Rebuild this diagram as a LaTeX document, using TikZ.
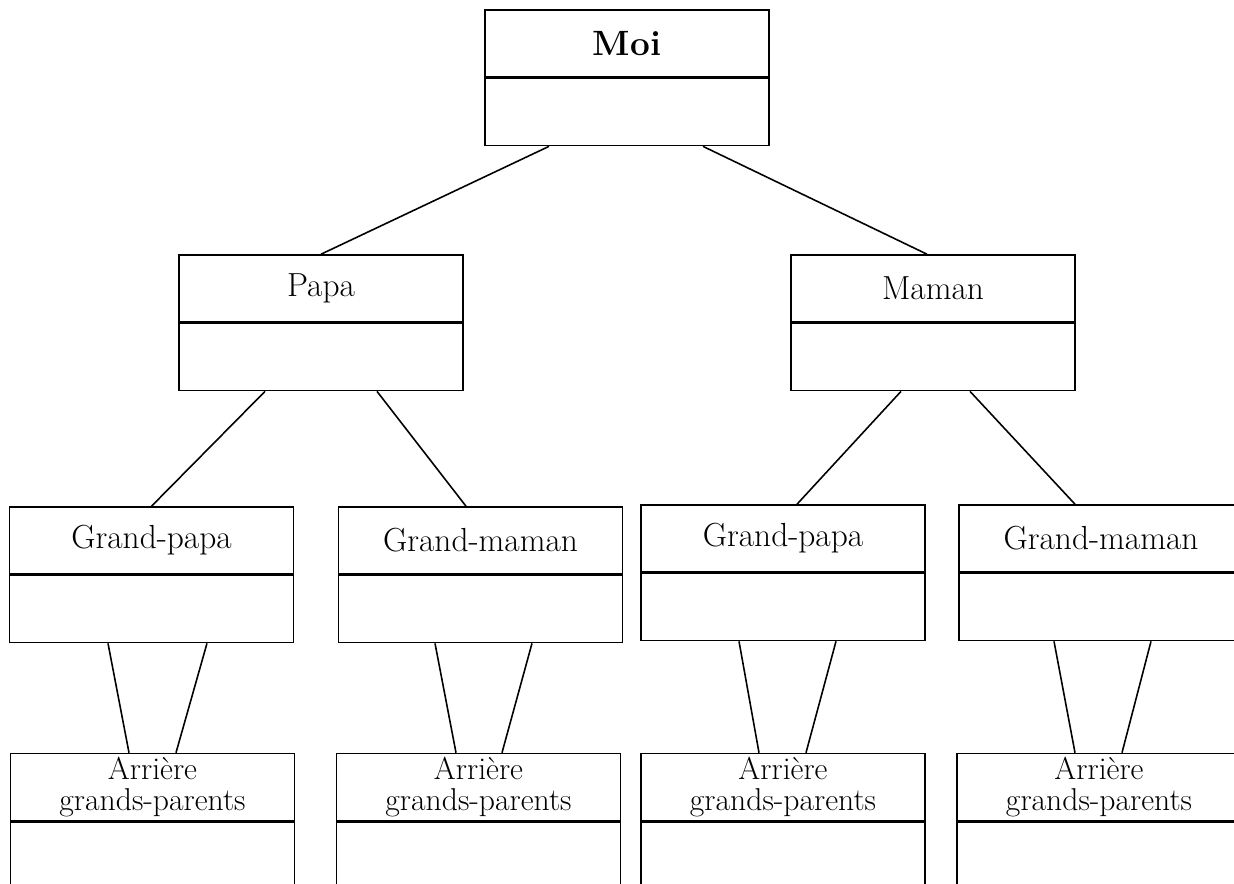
\documentclass[tikz,border=0pt]{standalone}
\usetikzlibrary{positioning}
\begin{document}
\begin{tikzpicture}
    [
    x=0.02cm, y=-0.02cm,
    line width=0.9pt,
    titlebox/.style={rectangle,draw,inner sep=0pt,minimum width=5.68cm,minimum height=1.34cm,align=center,font=\fontsize{19}{15}\selectfont},
    bodybox/.style={rectangle,draw,inner sep=0pt,minimum width=5.68cm,minimum height=1.34cm},
    smalltitle/.style={titlebox,font=\fontsize{18}{17.5}\selectfont}
    ]
    \useasboundingbox (0,0) rectangle (1234,883);
    \node (moi) at (627,43.5) [titlebox,font=\fontsize{20}{24}\selectfont\bfseries] {Moi};
    \node (moib) [bodybox,below=0pt of moi] {};
    \node (papa) at (321,288.5) [titlebox] {Papa};
    \node (papab) [bodybox,below=0pt of papa] {};
    \node (maman) at (933,288.5) [titlebox] {Maman};
    \node (mamanb) [bodybox,below=0pt of maman] {};
    \node (gp1) at (151.5,540.5) [titlebox] {Grand-papa};
    \node (gp1b) [bodybox,below=0pt of gp1] {};
    \node (gm1) at (480.5,540.5) [titlebox] {Grand-maman};
    \node (gm1b) [bodybox,below=0pt of gm1] {};
    \node (gp2) at (783,538.5) [titlebox] {Grand-papa};
    \node (gp2b) [bodybox,below=0pt of gp2] {};
    \node (gm2) at (1101,538.5) [titlebox] {Grand-maman};
    \node (gm2b) [bodybox,below=0pt of gm2] {};
    \node (agp1) at (152.5,787) [smalltitle] {Arrière\\grands-parents};
    \node (agp1b) [bodybox,below=0pt of agp1] {};
    \node (agp2) at (478.5,787) [smalltitle] {Arrière\\grands-parents};
    \node (agp2b) [bodybox,below=0pt of agp2] {};
    \node (agp3) at (783,787) [smalltitle] {Arrière\\grands-parents};
    \node (agp3b) [bodybox,below=0pt of agp3] {};
    \node (agp4) at (1099,787) [smalltitle] {Arrière\\grands-parents};
    \node (agp4b) [bodybox,below=0pt of agp4] {};
    \draw ([xshift=-1.56cm]moib.south) to (papa.north);
    \draw ([xshift=1.52cm]moib.south) to ([xshift=-0.12cm]maman.north);
    \draw ([xshift=-1.12cm]papab.south) to (gp1.north);
    \draw ([xshift=1.12cm]papab.south) to ([xshift=-0.29cm]gm1.north);
    \draw ([xshift=-0.64cm]mamanb.south) to ([xshift=0.28cm]gp2.north);
    \draw ([xshift=0.74cm]mamanb.south) to ([xshift=-0.52cm]gm2.north);
    \draw ([xshift=-0.87cm]gp1b.south) to ([xshift=-0.47cm]agp1.north);
    \draw ([xshift=1.11cm]gp1b.south) to ([xshift=0.47cm]agp1.north);
    \draw ([xshift=-0.91cm]gm1b.south) to ([xshift=-0.45cm]agp2.north);
    \draw ([xshift=1.03cm]gm1b.south) to ([xshift=0.47cm]agp2.north);
    \draw ([xshift=-0.88cm]gp2b.south) to ([xshift=-0.48cm]agp3.north);
    \draw ([xshift=1.06cm]gp2b.south) to ([xshift=0.46cm]agp3.north);
    \draw ([xshift=-0.94cm]gm2b.south) to ([xshift=-0.48cm]agp4.north);
    \draw ([xshift=1.00cm]gm2b.south) to ([xshift=0.46cm]agp4.north);
  \end{tikzpicture}
\end{document}
